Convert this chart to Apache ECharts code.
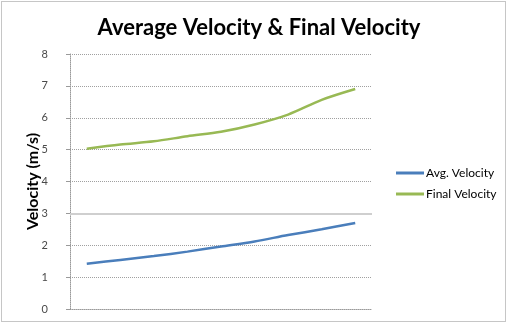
<!DOCTYPE html>
<html><head><meta charset="utf-8">
<script src="https://cdn.jsdelivr.net/npm/echarts@6/dist/echarts.min.js"></script>
<style>html,body{margin:0;padding:0;background:#fff}#c{width:507px;height:324px}</style>
</head><body><div id="c"></div>
<script>
const categories = ['1','2','3','4','5','6','7','8','9'];
const avgVelocity = [1.42, 1.54, 1.66, 1.80, 1.96, 2.12, 2.32, 2.50, 2.70];
const finalVelocity = [5.03, 5.16, 5.26, 5.42, 5.56, 5.79, 6.10, 6.56, 6.90];
const yTicks = [0,1,2,3,4,5,6,7,8];
const solidGridValue = 3;

const chart = echarts.init(document.getElementById('c'), null, {renderer:'canvas'});
const font = 'Lato, "Open Sans", sans-serif';
chart.setOption({
  animation:false,
  backgroundColor:'#fff',
  title:{text:'Average Velocity & Final Velocity', left:254, top:12, textAlign:'center',
    textStyle:{fontFamily:font, fontSize:22, fontWeight:'bold', color:'#000'}},
  graphic:[{type:'rect', shape:{x:1.5,y:1.5,width:504,height:320},
    style:{fill:'none', stroke:'#8c8c8c', lineWidth:1, lineDash:[1,1]}}],
  grid:{left:70, right:135, top:54, bottom:15},
  legend:{orient:'vertical', left:391, top:162, itemWidth:28, itemHeight:3, itemGap:9,
    icon:'rect',
    textStyle:{fontFamily:font, fontSize:12, color:'#000', padding:[0,0,0,-3]},
    data:['Avg. Velocity','Final Velocity']},
  xAxis:{type:'category', data:categories, boundaryGap:true,
    axisLine:{lineStyle:{color:'#9a9a9a', type:[1,1]}},
    axisTick:{show:false}, axisLabel:{show:false}},
  yAxis:{type:'value', min:0, max:8, interval:1,
    name:'Velocity (m/s)', nameLocation:'middle', nameGap:29, nameMoveOverlap:false,
    nameTextStyle:{fontFamily:font, fontSize:16, fontWeight:'bold', color:'#000'},
    axisLine:{show:true, lineStyle:{color:'#9a9a9a', type:[1,1]}},
    axisTick:{show:true, length:4, lineStyle:{color:'#9a9a9a'}},
    axisLabel:{fontFamily:font, fontSize:11, color:'#4a4a4a', margin:22,
      formatter:v=>yTicks.includes(v)?String(v):''},
    splitLine:{lineStyle:{color:'#a0a0a0', type:[1,1]}}},
  series:[
    {name:'Avg. Velocity', type:'line', data:avgVelocity, smooth:0.3, symbol:'none',
      itemStyle:{color:'#4a7ebb'}, lineStyle:{color:'#4a7ebb', width:2.5},
      markLine:{silent:true, symbol:'none', label:{show:false},
        lineStyle:{color:'#cfcfcf', type:'solid', width:2},
        data:[{yAxis:solidGridValue}]}},
    {name:'Final Velocity', type:'line', data:finalVelocity, smooth:0.3, symbol:'none',
      itemStyle:{color:'#98b954'}, lineStyle:{color:'#98b954', width:2.5}}
  ]
});
</script></body></html>
